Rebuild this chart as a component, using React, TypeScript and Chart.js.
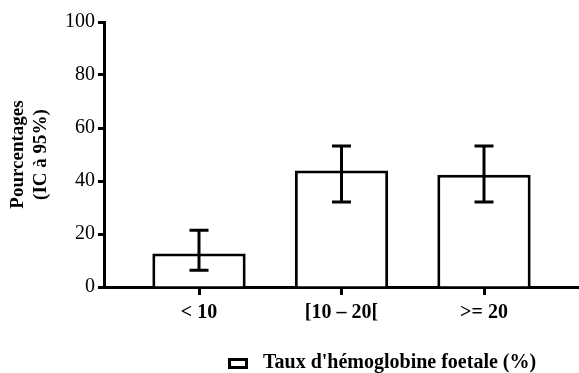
import React, { useEffect, useRef } from "react";
import { Chart, registerables } from "chart.js";

Chart.register(...registerables);

const categories = ["< 10", "[10 – 20[", ">= 20"];
const percentages = [12.6, 44.0, 42.4];
const ciLow = [6.3, 32.1, 32.1];
const ciHigh = [21.4, 53.2, 53.2];
const yTicks = [0, 20, 40, 60, 80, 100];
const seriesLabel = "Taux d'hémoglobine foetale (%)";
const yTitle = ["Pourcentages", "(IC à 95%)"];

const FONT = "'Liberation Serif', 'Times New Roman', serif";

const errorBarPlugin = {
  id: "errorBars",
  afterDatasetsDraw(chart: any) {
    const { ctx } = chart;
    const xScale = chart.scales.x;
    const yScale = chart.scales.y;
    ctx.save();
    ctx.strokeStyle = "#000";
    ctx.lineWidth = 3;
    ctx.lineCap = "butt";
    categories.forEach((_, i) => {
      const x = xScale.getPixelForValue(i);
      const yl = yScale.getPixelForValue(ciLow[i]);
      const yh = yScale.getPixelForValue(ciHigh[i]);
      const cap = 9.5;
      ctx.beginPath();
      ctx.moveTo(x, yl);
      ctx.lineTo(x, yh);
      ctx.moveTo(x - cap, yh);
      ctx.lineTo(x + cap, yh);
      ctx.moveTo(x - cap, yl);
      ctx.lineTo(x + cap, yl);
      ctx.stroke();
    });
    ctx.restore();
  },
};

const legendPlugin = {
  id: "customLegend",
  afterDraw(chart: any) {
    const { ctx } = chart;
    const label = chart.data.datasets[0].label;
    ctx.save();
    ctx.fillStyle = "#fff";
    ctx.strokeStyle = "#000";
    ctx.lineWidth = 3;
    ctx.fillRect(229.5, 359.5, 17, 8);
    ctx.strokeRect(229.5, 359.5, 17, 8);
    ctx.fillStyle = "#000";
    ctx.font = `bold 20px ${FONT}`;
    ctx.textBaseline = "middle";
    ctx.textAlign = "left";
    ctx.fillText(label, 263, 362.5);
    ctx.restore();
  },
};

export default function App() {
  const canvasRef = useRef<HTMLCanvasElement | null>(null);

  useEffect(() => {
    const canvas = canvasRef.current;
    if (!canvas) return;
    const chart = new Chart(canvas, {
      type: "bar",
      data: {
        datasets: [
          {
            label: seriesLabel,
            data: percentages.map((y, i) => ({ x: i, y })),
            backgroundColor: "#ffffff",
            borderColor: "#000000",
            borderWidth: 3,
            borderSkipped: "start",
            barPercentage: 0.655,
            categoryPercentage: 1,
          },
        ],
      },
      options: {
        responsive: false,
        animation: false,
        devicePixelRatio: 1,
        layout: { padding: { top: 22, right: 0, bottom: 42, left: 0 } },
        plugins: {
          legend: { display: false },
          tooltip: { enabled: false },
        },
        scales: {
          x: {
            type: "linear",
            offset: false,
            min: -2 / 3,
            max: 8 / 3,
            afterBuildTicks: (s: any) => {
              s.ticks = categories.map((_, i) => ({ value: i }));
            },
            ticks: {
              callback: (v: any) => categories[Math.round(Number(v))],
              font: { family: FONT, size: 20, weight: "bold" },
              color: "#000",
              padding: 6,
              autoSkip: false,
              maxRotation: 0,
            },
            grid: {
              offset: false,
              drawOnChartArea: false,
              drawTicks: true,
              tickLength: 8,
              tickWidth: 3,
              tickColor: "#000",
            },
            border: { display: true, color: "#000", width: 3 },
          },
          y: {
            min: 0,
            max: 100,
            afterBuildTicks: (s: any) => {
              s.ticks = yTicks.map((v) => ({ value: v }));
            },
            afterFit: (s: any) => {
              s.width = 104;
            },
            ticks: {
              font: { family: FONT, size: 20 },
              color: "#000",
              padding: 3,
            },
            grid: {
              drawOnChartArea: false,
              drawTicks: true,
              tickLength: 6,
              tickWidth: 3,
              tickColor: "#000",
            },
            border: { display: true, color: "#000", width: 3 },
            title: {
              display: true,
              text: yTitle,
              color: "#000",
              font: { family: FONT, size: 19, weight: "bold", lineHeight: 1.2 },
              padding: { top: 7, bottom: 0 },
            },
          },
        },
      },
      plugins: [errorBarPlugin, legendPlugin],
    } as any);
    return () => chart.destroy();
  }, []);

  return (
    <div style={{ position: "fixed", left: 0, top: 0, width: 579, height: 373, background: "#fff" }}>
      <canvas ref={canvasRef} width={579} height={373} style={{ display: "block" }} />
    </div>
  );
}
